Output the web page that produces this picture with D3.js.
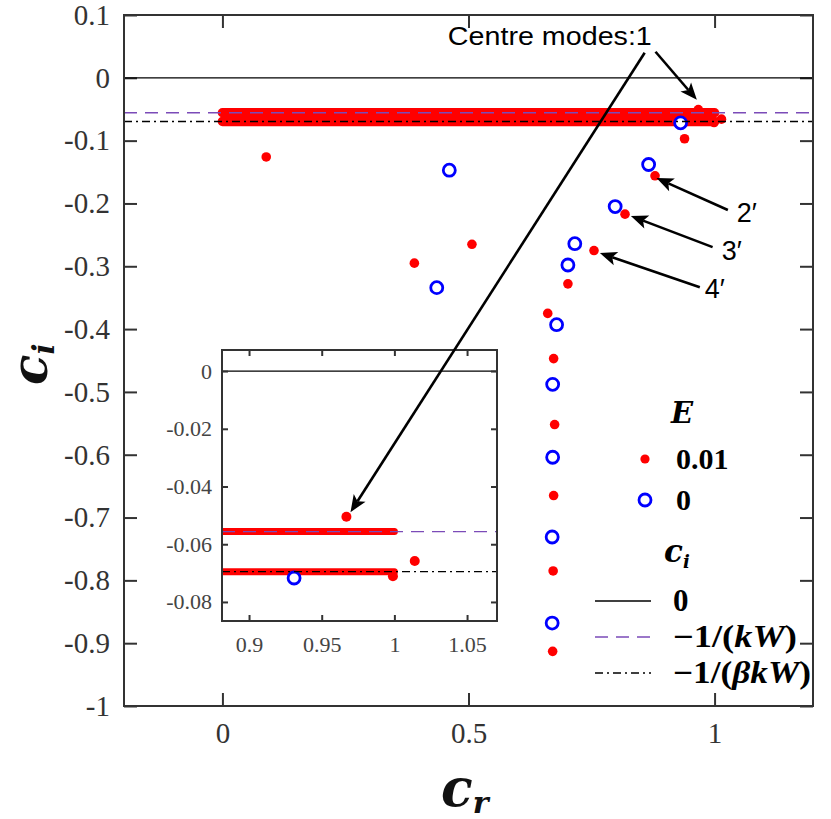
<!DOCTYPE html>
<html>
<head>
<meta charset="utf-8">
<script src="https://cdn.jsdelivr.net/npm/d3@7"></script>
<style>
  body { margin: 0; background: #fff; }
</style>
</head>
<body>
<div id="chart"></div>
<script>
// discrete modes, E = 0.01 (red dots) : [cr, ci]
const modesE001 = [
  [0.089, -0.126], [0.390, -0.295], [0.507, -0.265], [0.755, -0.275],
  [0.702, -0.328], [0.939, -0.097], [0.879, -0.156], [0.818, -0.217],
  [0.967, -0.0505], [1.014, -0.0658], [0.999, -0.0711],
  [0.661, -0.375], [0.673, -0.447], [0.675, -0.552], [0.673, -0.665],
  [0.672, -0.785], [0.671, -0.913],
];

// discrete modes, E = 0 (blue circles) : [cr, ci]
const modesE0 = [
  [0.461, -0.147], [0.4355, -0.334], [0.716, -0.264], [0.702, -0.298],
  [0.931, -0.0717], [0.866, -0.138], [0.798, -0.205], [0.679, -0.393],
  [0.671, -0.488], [0.671, -0.604], [0.670, -0.731], [0.670, -0.868],
];

// continuous spectrum (E = 0.01), dense dots along two levels of ci
const bandLevels = [-0.0556, -0.0695];
const bandCr = [0, 1.0];

// reference lines ci = 0, -1/(kW), -1/(beta k W)
const refValues = [0, -0.0556, -0.0695];

const xTicks = [0, 0.5, 1];
const yTicks = [0.1, 0, -0.1, -0.2, -0.3, -0.4, -0.5, -0.6, -0.7, -0.8, -0.9, -1];
const insetXTicks = [0.9, 0.95, 1, 1.05];
const insetYTicks = [0, -0.02, -0.04, -0.06, -0.08];

// annotations in data units
const primeLabels = ["2\u2032", "3\u2032", "4\u2032"];
const primeTails = [[1.027, -0.2105], [0.996, -0.2695], [0.970, -0.3333]];
const primeTips = [[0.882, -0.1595], [0.830, -0.220], [0.767, -0.279]];
const primeTextAt = [[1.045, -0.2297], [1.0145, -0.290], [0.980, -0.351]];
const centreText = "Centre modes:1";
const centreTextAt = [0.458, 0.0526];
const centreTailMain = [0.880, 0.0415];
const centreTipMain = [0.964, -0.0351];
const centreTailToInset = [0.858, 0.040];
const centreTipInset = [0.9698, -0.0489];

const red = "#ff0000";
const blue = "#0000ff";
const purple = "#7b4bb8";
const axisGrey = "#333";
const refStyles = [
  { stroke: "#000", dash: null },
  { stroke: purple, dash: "13,8" },
  { stroke: "#000", dash: "8,4,2,4" },
];

const serif = "Liberation Serif, serif";
const mathFont = "DejaVu Serif, serif";
const sans = "Liberation Sans, Arial, sans-serif";

const W = 831, H = 819;
const svg = d3.select("#chart").append("svg")
  .attr("width", W).attr("height", H)
  .attr("font-family", serif);

const defs = svg.append("defs");

// ---------- main plot ----------
const main = { left: 124, top: 15, right: 813, bottom: 706 };
const x = d3.scaleLinear().domain([-0.2, 1.2]).range([main.left, main.right]);
const y = d3.scaleLinear().domain([-1, 0.1]).range([main.bottom, main.top]);

defs.append("clipPath").attr("id", "clip-main")
  .append("rect")
  .attr("x", main.left).attr("y", main.top)
  .attr("width", main.right - main.left).attr("height", main.bottom - main.top);

const styleAxis = (g, size, colour) => {
  g.attr("font-family", serif);
  g.select(".domain").remove();
  g.selectAll(".tick line").attr("stroke", axisGrey).attr("stroke-width", 2);
  g.selectAll(".tick text").attr("font-size", size).attr("fill", colour);
};

const fmt = (d) => String(d);

svg.append("g").attr("transform", `translate(${main.left},0)`)
  .call(d3.axisLeft(y).tickValues(yTicks).tickSize(-13).tickPadding(14).tickFormat(fmt))
  .call((g) => styleAxis(g, 29, axisGrey));
svg.append("g").attr("transform", `translate(${main.right},0)`)
  .call(d3.axisRight(y).tickValues(yTicks).tickSize(-13).tickFormat(""))
  .call((g) => styleAxis(g, 29, axisGrey));
svg.append("g").attr("transform", `translate(0,${main.bottom})`)
  .call(d3.axisBottom(x).tickValues(xTicks).tickSize(-13).tickPadding(16).tickFormat(fmt))
  .call((g) => styleAxis(g, 29, axisGrey));
svg.append("g").attr("transform", `translate(0,${main.top})`)
  .call(d3.axisTop(x).tickValues(xTicks).tickSize(-13).tickFormat(""))
  .call((g) => styleAxis(g, 29, axisGrey));

const plot = svg.append("g").attr("clip-path", "url(#clip-main)");

// dense continuous spectrum drawn as thick round-capped strips
const drawBands = (g, xs, ys, width) => {
  g.selectAll(".band")
    .data(bandLevels)
    .join("line")
    .attr("class", "band")
    .attr("x1", xs(bandCr[0])).attr("x2", xs(bandCr[1]))
    .attr("y1", (d) => ys(d)).attr("y2", (d) => ys(d))
    .attr("stroke", red).attr("stroke-width", width)
    .attr("stroke-linecap", "round");
};

const drawModes = (g, xs, ys, rRed, rBlue) => {
  g.selectAll(".m-red")
    .data(modesE001)
    .join("circle")
    .attr("class", "m-red")
    .attr("cx", (d) => xs(d[0])).attr("cy", (d) => ys(d[1]))
    .attr("r", rRed).attr("fill", red);
  g.selectAll(".m-blue")
    .data(modesE0)
    .join("circle")
    .attr("class", "m-blue")
    .attr("cx", (d) => xs(d[0])).attr("cy", (d) => ys(d[1]))
    .attr("r", rBlue).attr("fill", "#fff")
    .attr("stroke", blue).attr("stroke-width", 2.8);
};

const drawRefs = (g, xs, ys) => {
  g.selectAll(".ref")
    .data(refValues)
    .join("line")
    .attr("class", "ref")
    .attr("x1", xs.range()[0]).attr("x2", xs.range()[1])
    .attr("y1", (d) => ys(d)).attr("y2", (d) => ys(d))
    .attr("stroke", (d, i) => refStyles[i].stroke)
    .attr("stroke-width", 1.3)
    .attr("stroke-dasharray", (d, i) => refStyles[i].dash);
};

drawBands(plot, x, y, 9.5);
drawModes(plot, x, y, 4.8, 6);
drawRefs(plot, x, y);

svg.append("rect")
  .attr("x", main.left).attr("y", main.top)
  .attr("width", main.right - main.left).attr("height", main.bottom - main.top)
  .attr("fill", "none").attr("stroke", axisGrey).attr("stroke-width", 2);

// axis titles
const xTitle = svg.append("text")
  .attr("x", 441).attr("y", 806)
  .attr("font-family", mathFont).attr("font-weight", "bold").attr("font-style", "italic")
  .attr("font-size", 52).attr("fill", "#111");
xTitle.append("tspan").text("c");
xTitle.append("tspan").attr("font-size", 30).attr("dy", 7).text("r");

const yTitle = svg.append("text")
  .attr("transform", "translate(47,385) rotate(-90)")
  .attr("font-family", mathFont).attr("font-weight", "bold").attr("font-style", "italic")
  .attr("font-size", 50).attr("fill", "#111");
yTitle.append("tspan").text("c");
yTitle.append("tspan").attr("font-size", 29).attr("dy", 7).text("i");

// ---------- inset ----------
const inset = { left: 222, top: 350, right: 497, bottom: 621 };
const xi = d3.scaleLinear().domain([0.8814, 1.0706]).range([inset.left, inset.right]);
const yi = d3.scaleLinear().domain([-0.0866, 0.0073]).range([inset.bottom, inset.top]);

defs.append("clipPath").attr("id", "clip-inset")
  .append("rect")
  .attr("x", inset.left).attr("y", inset.top)
  .attr("width", inset.right - inset.left).attr("height", inset.bottom - inset.top);

svg.append("rect")
  .attr("x", inset.left).attr("y", inset.top)
  .attr("width", inset.right - inset.left).attr("height", inset.bottom - inset.top)
  .attr("fill", "#fff");

const insetPlot = svg.append("g").attr("clip-path", "url(#clip-inset)");
drawBands(insetPlot, xi, yi, 7);
drawModes(insetPlot, xi, yi, 5, 6);
drawRefs(insetPlot, xi, yi);

svg.append("g").attr("transform", `translate(${inset.left},0)`)
  .call(d3.axisLeft(yi).tickValues(insetYTicks).tickSize(-6).tickPadding(10).tickFormat(fmt))
  .call((g) => styleAxis(g, 22, "#444"));
svg.append("g").attr("transform", `translate(${inset.right},0)`)
  .call(d3.axisRight(yi).tickValues(insetYTicks).tickSize(-6).tickFormat(""))
  .call((g) => styleAxis(g, 22, "#444"));
svg.append("g").attr("transform", `translate(0,${inset.bottom})`)
  .call(d3.axisBottom(xi).tickValues(insetXTicks).tickSize(-6).tickPadding(15).tickFormat(fmt))
  .call((g) => styleAxis(g, 22, "#444"));
svg.append("g").attr("transform", `translate(0,${inset.top})`)
  .call(d3.axisTop(xi).tickValues(insetXTicks).tickSize(-6).tickFormat(""))
  .call((g) => styleAxis(g, 22, "#444"));

svg.append("rect")
  .attr("x", inset.left).attr("y", inset.top)
  .attr("width", inset.right - inset.left).attr("height", inset.bottom - inset.top)
  .attr("fill", "none").attr("stroke", axisGrey).attr("stroke-width", 2);

// ---------- legend ----------
const legend = svg.append("g").attr("class", "legend");
legend.append("text")
  .attr("x", 671).attr("y", 423)
  .attr("font-family", mathFont).attr("font-weight", "bold").attr("font-style", "italic")
  .attr("font-size", 29).text("E");
legend.append("circle").attr("cx", 645).attr("cy", 459).attr("r", 4.6).attr("fill", red);
legend.append("text").attr("x", 676).attr("y", 469)
  .attr("font-weight", "bold").attr("font-size", 30).text("0.01");
legend.append("circle").attr("cx", 645).attr("cy", 500).attr("r", 6)
  .attr("fill", "none").attr("stroke", blue).attr("stroke-width", 2.8);
legend.append("text").attr("x", 676).attr("y", 510)
  .attr("font-weight", "bold").attr("font-size", 30).text("0");

const ciTitle = legend.append("text")
  .attr("x", 664).attr("y", 562)
  .attr("font-family", mathFont).attr("font-weight", "bold").attr("font-style", "italic")
  .attr("font-size", 31);
ciTitle.append("tspan").text("c");
ciTitle.append("tspan").attr("font-size", 18).attr("dy", 6).text("i");

const legendRows = [601, 637, 673];
legend.selectAll(".lg-line")
  .data(refValues)
  .join("line")
  .attr("class", "lg-line")
  .attr("x1", 595).attr("x2", 651)
  .attr("y1", (d, i) => legendRows[i]).attr("y2", (d, i) => legendRows[i])
  .attr("stroke", (d, i) => refStyles[i].stroke)
  .attr("stroke-width", 1.3)
  .attr("stroke-dasharray", (d, i) => refStyles[i].dash);

const lgLabel = (row, parts, width) => {
  const t = legend.append("text")
    .attr("x", 673).attr("y", legendRows[row] + 10)
    .attr("font-weight", "bold").attr("font-size", 31);
  parts.forEach(([s, italic]) => {
    t.append("tspan")
      .attr("font-style", italic ? "italic" : "normal")
      .text(s);
  });
  if (width) t.attr("textLength", width).attr("lengthAdjust", "spacingAndGlyphs");
};
lgLabel(0, [["0", false]]);
lgLabel(1, [["\u22121/(", false], ["kW", true], [")", false]], 124);
lgLabel(2, [["\u22121/(", false], ["\u03b2kW", true], [")", false]], 138);

// ---------- annotations ----------
const ann = svg.append("g").attr("class", "annotations");

const arrow = (p1, p2) => {
  const [x1, y1] = p1, [x2, y2] = p2;
  const a = Math.atan2(y2 - y1, x2 - x1);
  const len = 17, half = 7, notch = 4;
  const bx = x2 - len * Math.cos(a), by = y2 - len * Math.sin(a);
  const nx = x2 - (len - notch) * Math.cos(a), ny = y2 - (len - notch) * Math.sin(a);
  const px = -Math.sin(a) * half, py = Math.cos(a) * half;
  ann.append("line")
    .attr("x1", x1).attr("y1", y1).attr("x2", nx).attr("y2", ny)
    .attr("stroke", "#000").attr("stroke-width", 2.6);
  ann.append("path")
    .attr("d", `M${x2},${y2}L${bx + px},${by + py}L${nx},${ny}L${bx - px},${by - py}Z`)
    .attr("fill", "#000");
};

const toMain = (d) => [x(d[0]), y(d[1])];
const toInset = (d) => [xi(d[0]), yi(d[1])];

arrow(toMain(centreTailToInset), toInset(centreTipInset));
arrow(toMain(centreTailMain), toMain(centreTipMain));

ann.append("text")
  .attr("x", x(centreTextAt[0])).attr("y", y(centreTextAt[1]))
  .attr("font-family", sans)
  .attr("font-size", 25)
  .attr("textLength", 204).attr("lengthAdjust", "spacingAndGlyphs")
  .text(centreText);

primeLabels.forEach((label, i) => {
  arrow(toMain(primeTails[i]), toMain(primeTips[i]));
  ann.append("text")
    .attr("x", x(primeTextAt[i][0])).attr("y", y(primeTextAt[i][1]))
    .attr("font-family", sans)
    .attr("font-size", 27)
    .text(label);
});
</script>
</body>
</html>
